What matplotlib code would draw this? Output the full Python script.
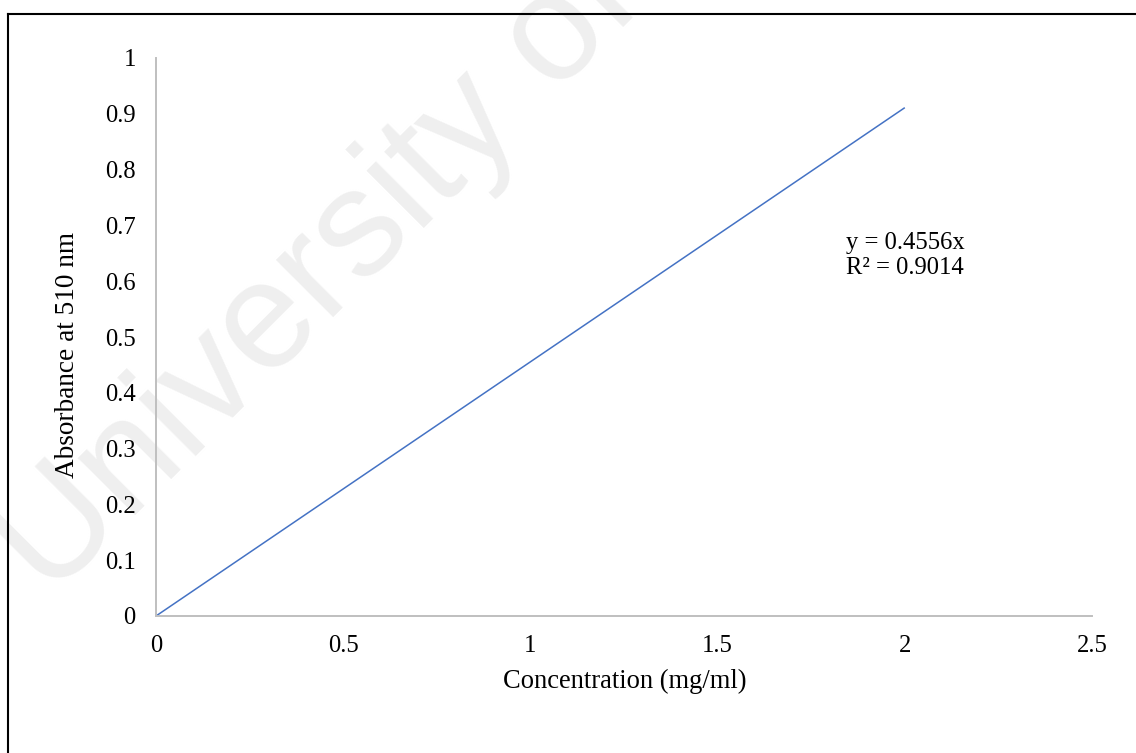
import numpy as np
import matplotlib.pyplot as plt
from matplotlib.lines import Line2D

# data (trendline end points)
conc = [0.0, 2.0]
absorbance = [0.0, 0.911]
slope = 0.4556
r2 = 0.9014

xticks = [0, 0.5, 1, 1.5, 2, 2.5]
xlabels = ["0", "0.5", "1", "1.5", "2", "2.5"]
yticks = [0, 0.1, 0.2, 0.3, 0.4, 0.5, 0.6, 0.7, 0.8, 0.9, 1]
ylabels = ["0", "0.1", "0.2", "0.3", "0.4", "0.5", "0.6", "0.7", "0.8", "0.9", "1"]

W, H = 1136, 753
serif = "Liberation Serif"

fig = plt.figure(figsize=(W / 100, H / 100), dpi=100)
ax = fig.add_axes([156 / W, 1 - 616 / H, (1092 - 156) / W, (616 - 58) / H])
ax.set_facecolor("none")

ax.plot(conc, absorbance, color="#4472c4", lw=1.1, solid_capstyle="butt")

ax.set_xlim(0, 2.5)
ax.set_ylim(0, 1)
ax.set_xticks(xticks)
ax.set_xticklabels(xlabels, fontfamily=serif, fontsize=17.7)
ax.set_yticks(yticks)
ax.set_yticklabels(ylabels, fontfamily=serif, fontsize=17.7)
ax.tick_params(axis="x", length=0, pad=13.5)
ax.tick_params(axis="y", length=0, pad=14.5)

for s in ["top", "right"]:
    ax.spines[s].set_visible(False)
for s in ["left", "bottom"]:
    ax.spines[s].set_color("#bfbfbf")
    ax.spines[s].set_linewidth(1.4)

ax.set_xlabel("Concentration (mg/ml)", fontfamily=serif, fontsize=19.1, va="center")
ax.xaxis.set_label_coords((625 - 156) / 936, (616 - 681) / 558)
ax.set_ylabel("Absorbance at 510 nm", fontfamily=serif, fontsize=19.6, va="center")
ax.yaxis.set_label_coords((68 - 156) / 936, (616 - 355) / 558)

# trendline equation
ax.text((846 - 156) / 936, (616 - 255.5) / 558,
        "y = %.4fx\nR² = %.4f" % (slope, r2),
        transform=ax.transAxes, ha="left", va="center",
        fontfamily=serif, fontsize=17.7, linespacing=1.22)

# watermark
fig.text(50 / W, 1 - 600 / H, "University of Malaya", rotation=45,
         rotation_mode="anchor", ha="left", va="baseline",
         fontsize=110, color="#efefef", family="Liberation Sans", zorder=-1)

# outer frame (top and left edges visible)
fig.add_artist(Line2D([8 / W, 1.0], [1 - 13.5 / H, 1 - 13.5 / H], color="black", lw=1.5))
fig.add_artist(Line2D([8 / W, 8 / W], [0.0, 1 - 13.5 / H], color="black", lw=1.5))

fig.savefig("out.png", dpi=100)
